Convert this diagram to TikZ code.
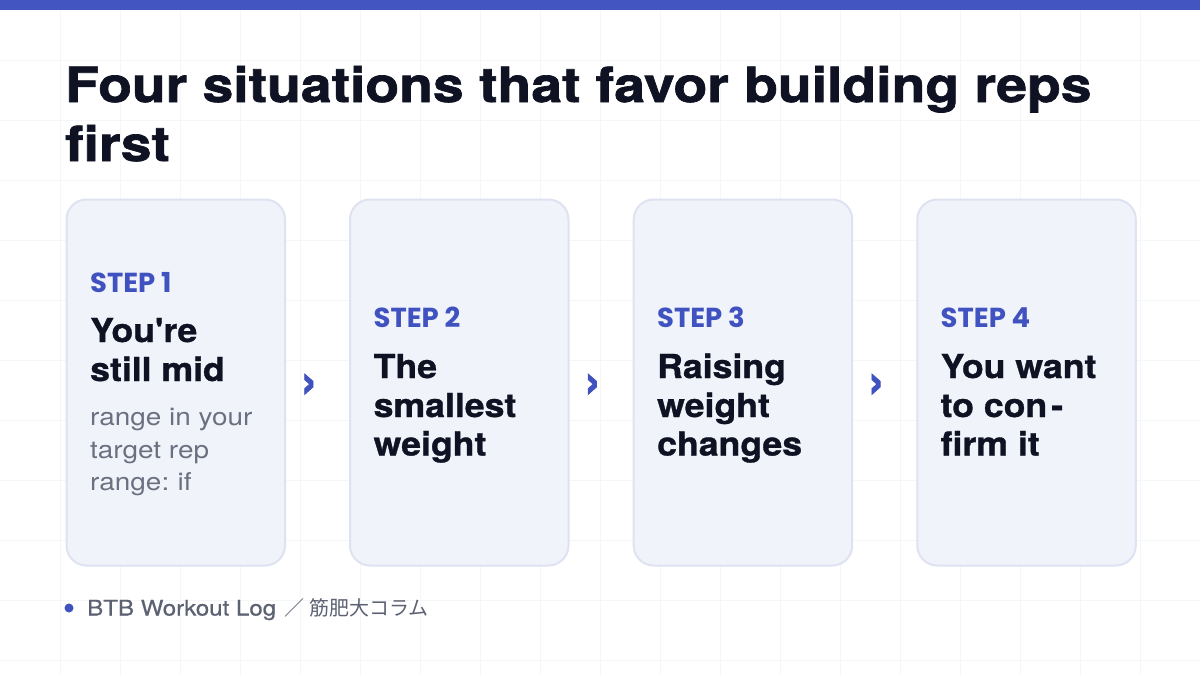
\documentclass[tikz,border=0pt]{standalone}
\usepackage{fontspec}
\setmainfont{TeX Gyre Heros}
\newfontfamily\headfont{TeX Gyre Heros}[FakeStretch=1.14, FakeBold=1.4]
\newfontfamily\cardfont{TeX Gyre Heros}[FakeStretch=1.08, FakeBold=1.0]
\newfontfamily\bodyfont{TeX Gyre Heros}[FakeStretch=1.14]
\newfontfamily\footfont{TeX Gyre Heros}[FakeStretch=1.12, FakeBold=0.5]
\newfontfamily\chevfont{TeX Gyre Heros}[FakeBold=1.5]
\newfontfamily\stepfont{Poppins}
\newfontfamily\jpfont{Noto Sans CJK JP}
\usetikzlibrary{calc}
\definecolor{barblue}{HTML}{4355C1}
\definecolor{stepblue}{HTML}{4052C0}
\definecolor{ink}{HTML}{0F1222}
\definecolor{graytxt}{HTML}{6B7080}
\definecolor{foottxt}{HTML}{5C6272}
\definecolor{gridc}{HTML}{F5F6F8}
\definecolor{cardfill}{HTML}{F1F3FB}
\definecolor{cardline}{HTML}{DFE2F0}
\begin{document}
\begin{tikzpicture}[x=1pt,y=-1pt,
  cardbox/.style={draw=cardline, fill=cardfill, line width=2pt, rounded corners=20pt,
    minimum width=218.5pt, minimum height=366pt, inner sep=0pt, anchor=north west},
  titlest/.style={anchor=base west, inner sep=0pt, text=ink, font=\headfont\bfseries\fontsize{48.5}{58}\selectfont},
  steplbl/.style={anchor=base west, inner sep=0pt, text=stepblue, font=\stepfont\bfseries\fontsize{27.5}{30}\selectfont},
  headline/.style={anchor=base west, inner sep=0pt, text=ink, font=\cardfont\bfseries\fontsize{33}{39}\selectfont},
  bodyline/.style={anchor=base west, inner sep=0pt, text=graytxt, font=\bodyfont\fontsize{24.5}{32}\selectfont},
  chev/.style={inner sep=0pt, text=stepblue, font=\chevfont\bfseries\fontsize{50}{50}\selectfont},
  foot/.style={anchor=base west, inner sep=0pt, text=foottxt}
]
\useasboundingbox (0,0) rectangle (1200,675);
\fill[white] (0,0) rectangle (1200,675);
\foreach \x in {60,120,...,1140} \draw[gridc, line width=1pt] (\x,0) -- (\x,675);
\foreach \y in {60,120,...,660} \draw[gridc, line width=1pt] (0,\y) -- (1200,\y);
\fill[barblue] (0,0) rectangle (1200,9.5);

% title
\node[titlest] (t1) at (65,102) {Four situations that favor building reps};
\node[titlest] (t2) at (65,161) {first};

% cards
\node[cardbox] (c1) at (65.5,198.5) {};
\node[cardbox] (c2) at (349,198.5) {};
\node[cardbox] (c3) at (632.7,198.5) {};
\node[cardbox] (c4) at (916.3,198.5) {};

% card 1
\node[steplbl] (s1) at (90,292) {STEP 1};
\node[headline] (h1a) at (90,342) {You're};
\node[headline] (h1b) at (90,381) {still mid};
\node[bodyline] (b1a) at (90,425) {range in your};
\node[bodyline] (b1b) at (90,458) {target rep};
\node[bodyline] (b1c) at (90,490) {range:\hspace{-2pt} if};

% card 2
\node[steplbl] (s2) at (373.5,327) {STEP 2};
\node[headline] (h2a) at (373.5,378) {The};
\node[headline] (h2b) at (373.5,417) {smallest};
\node[headline] (h2c) at (373.5,455.5) {weight};

% card 3
\node[steplbl] (s3) at (657,327) {STEP 3};
\node[headline] (h3a) at (657,378) {Raising};
\node[headline] (h3b) at (657,417) {weight};
\node[headline] (h3c) at (657,455.5) {changes};

% card 4
\node[steplbl] (s4) at (940.5,327) {STEP 4};
\node[headline] (h4a) at (940.5,378) {You want};
\node[headline] (h4b) at (940.5,417) {to con\hspace{4pt}-};
\node[headline] (h4c) at (940.5,455.5) {firm it};

% chevrons
\node[chev] (a1) at ($(c1.east)+(23,3.5)$) {›};
\node[chev] (a2) at ($(c2.east)+(23,3.5)$) {›};
\node[chev] (a3) at ($(c3.east)+(23,3.5)$) {›};

% footer
\fill[stepblue] (69,608) circle (4.5pt);
\node[foot, font=\footfont\fontsize{21.5}{24}\selectfont] (f1) at (87,615.5) {BTB Workout Log};
\node[foot, font=\jpfont\fontsize{20}{24}\selectfont, anchor=base west] (f2) at ($(f1.base east)+(8,0)$) {／ 筋肥大コラム};
\end{tikzpicture}
\end{document}
